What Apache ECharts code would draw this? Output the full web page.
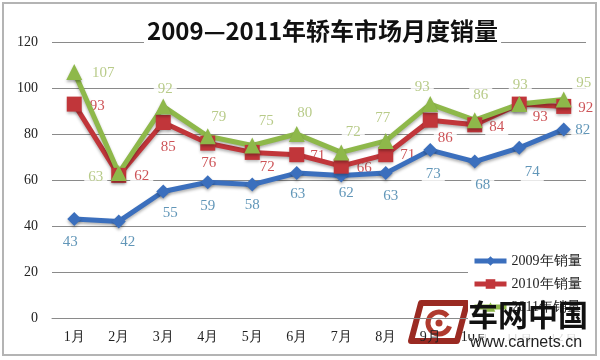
<!DOCTYPE html>
<html>
<head>
<meta charset="utf-8">
<style>html,body{margin:0;padding:0;background:#fff}#c{width:600px;height:360px}</style>
<script src="https://cdn.jsdelivr.net/npm/echarts@6/dist/echarts.min.js"></script>
</head>
<body>
<div id="c"></div>
<script>
// ---- data ----
const categories = ['1月','2月','3月','4月','5月','6月','7月','8月','9月','10月','11月','12月'];
const sales2009 = [43, 42, 55, 59, 58, 63, 62, 63, 73, 68, 74, 82];
const sales2010 = [93, 62, 85, 76, 72, 71, 66, 71, 86, 84, 93, 92];
const sales2011 = [107, 63, 92, 79, 75, 80, 72, 77, 93, 86, 93, 95];
const seriesNames = ['2009年销量', '2010年销量', '2011年销量'];
const yTicks = [0, 20, 40, 60, 80, 100, 120];
const titleText = '2009—2011年轿车市场月度销量';

// ---- layout (label offsets from each point) ----
const off2009 = [[-4,23],[9,21],[7,22],[0,24],[0,20],[1,21],[5,18],[5,23],[3,24],[8,23],[13,24],[19,1]];
const off2010 = [[23,2],[23,1],[5,25],[1,20],[15,15],[21,1],[23,2],[22,0],[15,18],[22,2],[21,13],[22,2]];
const off2011 = [[29,1],[-23,4],[2,-17],[11,-19],[14,-24],[8,-21],[12,-20],[-3,-23],[-8,-17],[6,-25],[1,-19],[20,-16]];

const serif = '"Liberation Serif","DejaVu Serif",serif';
const shadow = { shadowColor: 'rgba(0,0,0,0.3)', shadowBlur: 3, shadowOffsetY: 2 };

function lineSeries(name, values, color, symbol, size) {
  return {
    name, type: 'line', data: values, z: 3,
    symbol, symbolSize: size,
    lineStyle: Object.assign({ width: 5, color }, shadow),
    itemStyle: Object.assign({ color }, shadow),
    label: { show: false },
    emphasis: { disabled: true },
    animation: false
  };
}
function labelSeries(name, values, offs, labelColor) {
  return {
    name: name + '-label', type: 'scatter', z: 1,
    data: values.map((v, i) => ({ value: v, label: { offset: offs[i] } })),
    symbolSize: 1, itemStyle: { color: 'rgba(0,0,0,0)' },
    label: {
      show: true, position: 'inside', align: 'center', verticalAlign: 'middle',
      color: labelColor, fontFamily: serif, fontSize: 15,
      backgroundColor: '#fff', padding: [2, 4]
    },
    emphasis: { disabled: true },
    silent: true, animation: false
  };
}

const chart = echarts.init(document.getElementById('c'), null, { renderer: 'canvas' });
chart.setOption({
  animation: false,
  backgroundColor: '#fff',
  title: {
    text: titleText, left: 144, top: 19,
    backgroundColor: '#fff', padding: [0, 3],
    textStyle: { fontFamily: '"Noto Sans CJK SC", sans-serif', fontWeight: 'bold', fontSize: 24, color: '#111' }
  },
  grid: { left: 52, right: 14, top: 42, bottom: 42 },
  legend: {
    orient: 'vertical', left: 468, top: 250,
    itemWidth: 32, itemHeight: 12, itemGap: 9,
    backgroundColor: '#fff', padding: [4, 8, 20, 4],
    lineStyle: { width: 5 },
    textStyle: { fontFamily: serif, fontSize: 14, color: '#222' },
    data: seriesNames
  },
  xAxis: {
    type: 'category', data: categories, boundaryGap: true,
    axisLine: { show: true, lineStyle: { color: '#8a8a8a', width: 1 } },
    axisTick: { show: false },
    axisLabel: { fontFamily: serif, fontSize: 14, color: '#222', margin: 12 }
  },
  yAxis: {
    type: 'value', min: yTicks[0], max: yTicks[yTicks.length - 1], interval: 20,
    axisLine: { show: false }, axisTick: { show: false },
    axisLabel: { fontFamily: serif, fontSize: 14, color: '#222', margin: 14 },
    splitLine: { lineStyle: { color: '#8a8a8a', width: 1 } }
  },
  series: [
    labelSeries(seriesNames[0], sales2009, off2009, '#3a7ca6'),
    labelSeries(seriesNames[1], sales2010, off2010, '#c0282d'),
    labelSeries(seriesNames[2], sales2011, off2011, '#a6be6c'),
    lineSeries(seriesNames[0], sales2009, '#3b6fbd', 'diamond', 14),
    lineSeries(seriesNames[1], sales2010, '#c1363a', 'rect', 15),
    lineSeries(seriesNames[2], sales2011, '#8eb84a', 'triangle', 16)
  ],
  graphic: [
    { type: 'rect', shape: { x: 3, y: 3, width: 593, height: 352 }, style: { fill: 'none', stroke: '#b4b4b4', lineWidth: 2 }, silent: true, z: 100 },
    { type: 'rect', shape: { x: 484, y: 329, width: 110, height: 24 }, style: { fill: 'rgba(255,255,255,0.85)' }, silent: true, z: 105 },
    { type: 'group', left: 408, top: 300, z: 110, silent: true, children: [
      { type: 'polygon', shape: { points: [[14, 4], [60, 4], [50, 42], [4, 42]] }, style: { fill: 'none', stroke: '#9a2a22', lineWidth: 6, lineJoin: 'round' } },
      { type: 'arc', shape: { cx: 32, cy: 24, r: 11, startAngle: 0.3, endAngle: 5.6 }, style: { fill: 'none', stroke: '#b03a2e', lineWidth: 5 } },
      { type: 'circle', shape: { cx: 32, cy: 24, r: 3.5 }, style: { fill: '#b03a2e' } }
    ]},
    { type: 'text', left: 468, top: 300, z: 110, silent: true,
      style: { text: '车网中国', font: 'bold 30px "Noto Sans CJK SC", sans-serif', fill: '#111' } },
    { type: 'text', left: 470, top: 335, z: 110, silent: true,
      style: { text: 'www.carnets.cn', font: '16px "Liberation Sans", Arial, sans-serif', fill: '#222' } }
  ]
});
</script>
</body>
</html>
